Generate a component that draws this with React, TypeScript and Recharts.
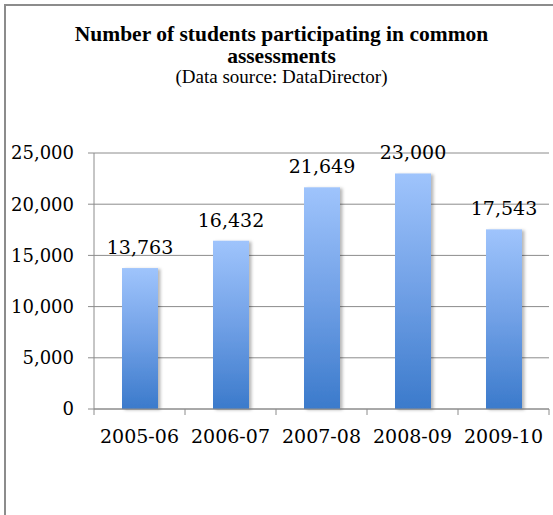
import { Bar, BarChart, CartesianGrid, LabelList, XAxis, YAxis } from 'recharts';

const seasons = ['2005-06', '2006-07', '2007-08', '2008-09', '2009-10'];
const studentCounts = [13763, 16432, 21649, 23000, 17543];
const countTicks = [0, 5000, 10000, 15000, 20000, 25000];

const titleLines = ['Number of students participating in common', 'assessments'];
const sourceNote = '(Data source: DataDirector)';

const chartData = seasons.map((season, i) => ({ season, students: studentCounts[i] }));

const WIDTH = 553;
const HEIGHT = 515;
const AXIS_GRAY = '#8c8c8c';
const numberFont = '"DejaVu Serif", serif';
const titleFont = '"Liberation Serif", serif';

function formatCount(value: number | string) {
  return Number(value).toLocaleString('en-US');
}

// category labels, plus the boundary tick marks between categories
function SeasonTick(props: any) {
  const { x, y, payload, index, visibleTicksCount } = props;
  const half = payload?.offset ?? 45.5;
  const axisY = y - 21;
  const isLast = index === (visibleTicksCount ?? seasons.length) - 1;
  return (
    <g>
      <line x1={x - half} x2={x - half} y1={axisY} y2={axisY + 6} stroke={AXIS_GRAY} />
      {isLast && <line x1={x + half} x2={x + half} y1={axisY} y2={axisY + 6} stroke={AXIS_GRAY} />}
      <text x={x} y={y} dy="0.71em" textAnchor="middle" fontFamily={numberFont} fontSize={19} fill="#000">
        {payload.value}
      </text>
    </g>
  );
}

function ShadowedBar(props: any) {
  const { x, y, width, height } = props;
  if (!height || height <= 0) return null;
  return <rect x={x} y={y} width={width} height={height} fill="url(#studentsFill)" filter="url(#barShadow)" />;
}

export default function App() {
  return (
    <div style={{ position: 'absolute', left: 0, top: 0, width: WIDTH, height: HEIGHT, overflow: 'hidden', background: '#fff' }}>
      <div
        style={{
          position: 'absolute',
          left: 4,
          top: 4,
          width: WIDTH,
          height: HEIGHT,
          borderTop: `2px solid ${AXIS_GRAY}`,
          borderLeft: `2px solid ${AXIS_GRAY}`,
        }}
      />
      <svg width={WIDTH} height={100} style={{ position: 'absolute', left: 0, top: 0 }}>
        <text x={281.5} y={40.7} textAnchor="middle" fontFamily={titleFont} fontWeight="bold" fontSize={21.5} fill="#000">
          {titleLines[0]}
        </text>
        <text x={281.5} y={62.7} textAnchor="middle" fontFamily={titleFont} fontWeight="bold" fontSize={21.5} fill="#000">
          {titleLines[1]}
        </text>
        <text x={281.5} y={82.7} textAnchor="middle" fontFamily={titleFont} fontSize={19} fill="#000">
          {sourceNote}
        </text>
      </svg>
      <div style={{ position: 'absolute', left: 0, top: 0 }}>
        <BarChart width={WIDTH} height={HEIGHT} data={chartData} margin={{ top: 153, right: 4, bottom: 56, left: 14 }}>
          <defs>
            <linearGradient id="studentsFill" x1="0" y1="0" x2="0" y2="1">
              <stop offset="0%" stopColor="#9fc4fc" />
              <stop offset="50%" stopColor="#70a0e6" />
              <stop offset="100%" stopColor="#3b7acb" />
            </linearGradient>
            <filter id="barShadow" x="-20%" y="-5%" width="140%" height="110%">
              <feDropShadow dx={2.5} dy={1} stdDeviation={1.4} floodColor="#000" floodOpacity={0.28} />
            </filter>
          </defs>
          <CartesianGrid vertical={false} stroke={AXIS_GRAY} />
          <XAxis
            dataKey="season"
            height={50}
            stroke={AXIS_GRAY}
            tickLine={false}
            tickSize={0}
            tickMargin={21}
            interval={0}
            tick={<SeasonTick />}
          />
          <YAxis
            width={80}
            domain={[0, 25000]}
            ticks={countTicks}
            interval={0}
            stroke={AXIS_GRAY}
            tickSize={6}
            tickMargin={14}
            tickFormatter={formatCount}
            tick={{ fontFamily: numberFont, fontSize: 18, fill: '#000' }}
          />
          <Bar dataKey="students" barSize={36} shape={<ShadowedBar />} isAnimationActive={false}>
            <LabelList
              dataKey="students"
              position="top"
              offset={14}
              formatter={formatCount}
              style={{ fontFamily: numberFont, fontSize: 19, fill: '#000' }}
            />
          </Bar>
        </BarChart>
      </div>
    </div>
  );
}
